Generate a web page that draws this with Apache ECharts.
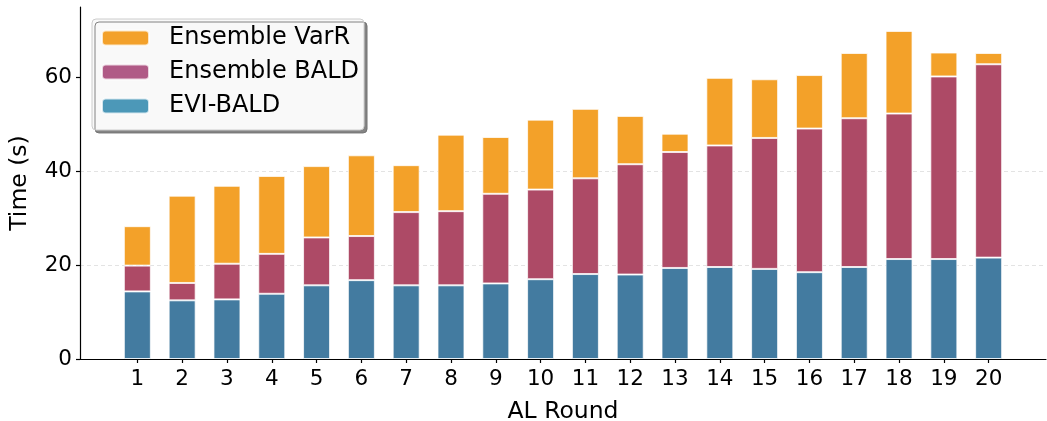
<!DOCTYPE html>
<html>
<head>
<meta charset="utf-8">
<script src="https://cdn.jsdelivr.net/npm/echarts@6/dist/echarts.min.js"></script>
<style>html,body{margin:0;padding:0;background:#fff}#c{width:1047px;height:421px}</style>
</head>
<body>
<div id="c"></div>
<script>
const rounds = [1,2,3,4,5,6,7,8,9,10,11,12,13,14,15,16,17,18,19,20];
const eviBald = [14.4,12.5,12.7,13.9,15.7,16.8,15.7,15.7,16.1,17.0,18.1,18.0,19.4,19.6,19.2,18.5,19.6,21.3,21.3,21.6];
const ensembleBald = [5.5,3.7,7.6,8.5,10.2,9.4,15.6,15.8,19.1,19.1,20.4,23.5,24.7,25.9,27.9,30.6,31.7,31.0,38.9,41.2];
const ensembleVarR = [8.4,18.6,16.6,16.6,15.2,17.2,10.0,16.3,12.1,14.9,14.8,10.3,3.9,14.4,12.5,11.4,13.9,17.6,5.1,2.4];
const yTicks = [0,20,40,60];

const FONT = 'DejaVu Sans';
const chart = echarts.init(document.getElementById('c'), null, {renderer:'canvas'});
// value first, round second; encode maps them so the value dimension is the stacked one
const pairs = arr => arr.map((v,i)=>[v, rounds[i]]);
const barStyle = c => ({color:c, borderColor:'rgba(255,255,255,0.75)', borderWidth:1});
const mk = (name, arr, color) => ({
  name, type:'bar', stack:'t', barWidth:27, data:pairs(arr),
  encode:{x:1, y:0}, itemStyle:barStyle(color)
});
chart.setOption({
  animation:false,
  textStyle:{fontFamily:FONT},
  grid:{left:80, right:1, top:7, bottom:62, containLabel:false, outerBoundsMode:'none'},
  legend:{
    orient:'vertical', left:92, top:19,
    itemWidth:47, itemHeight:15, itemGap:10,
    padding:[7,5,12,9],
    backgroundColor:'#f9f9f9', borderColor:'#cccccc', borderWidth:1, borderRadius:4,
    shadowColor:'rgba(110,110,110,0.85)', shadowOffsetX:3, shadowOffsetY:3, shadowBlur:0,
    textStyle:{fontFamily:FONT, fontSize:24, color:'#000', padding:[0,0,0,15]},
    data:[
      {name:'Ensemble VarR', itemStyle:{color:'#f3a12b'}},
      {name:'Ensemble BALD', itemStyle:{color:'#b05a86'}},
      {name:'EVI-BALD', itemStyle:{color:'#4c98b8'}}
    ]
  },
  xAxis:{
    type:'value', min:-0.28, max:21.28,
    name:'AL Round', nameLocation:'middle', nameGap:41,
    nameTextStyle:{fontFamily:FONT, fontSize:23.5, color:'#000'},
    axisLine:{show:true, onZero:false, lineStyle:{color:'#000', width:1.2}},
    axisTick:{show:true, customValues:rounds, length:4, lineStyle:{color:'#000', width:1.2}},
    axisLabel:{customValues:rounds, fontFamily:FONT, fontSize:21.5, color:'#000', margin:9},
    splitLine:{show:false}
  },
  yAxis:{
    type:'value', min:0, max:75, interval:20,
    name:'Time (s)', nameLocation:'middle', nameGap:48,
    nameTextStyle:{fontFamily:FONT, fontSize:23.5, color:'#000'},
    axisLine:{show:true, onZero:false, lineStyle:{color:'#000', width:1.2}},
    axisTick:{show:true, customValues:yTicks, length:4, lineStyle:{color:'#000', width:1.2}},
    axisLabel:{customValues:yTicks, fontFamily:FONT, fontSize:21.5, color:'#000', margin:8},
    splitLine:{show:true, showMinLine:false, showMaxLine:false, lineStyle:{color:'#e3e3e3', type:[4,3], width:1}}
  },
  series:[
    mk('EVI-BALD', eviBald, '#437ba0'),
    mk('Ensemble BALD', ensembleBald, '#ad4a66'),
    mk('Ensemble VarR', ensembleVarR, '#f3a129')
  ]
});
</script>
</body>
</html>
